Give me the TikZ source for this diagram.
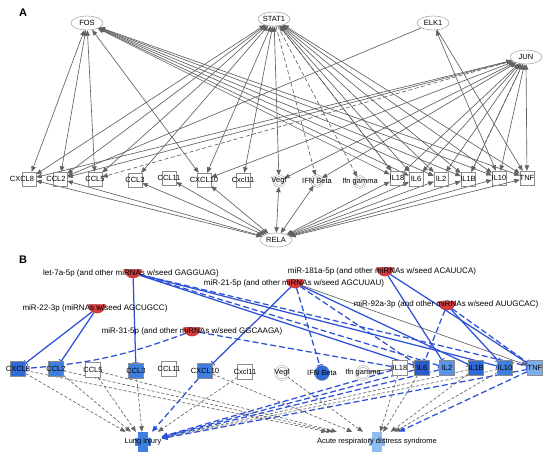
\documentclass[tikz,border=0pt]{standalone}
\usepackage{fontspec}
\setmainfont{Liberation Sans}
\usetikzlibrary{arrows.meta,shapes.geometric}
\definecolor{eg}{HTML}{626262}
\definecolor{nb}{HTML}{8C8C8C}
\definecolor{bl}{HTML}{2D52D6}
\definecolor{mr}{HTML}{D63A3A}
\definecolor{fA}{HTML}{2E6AD8}
\definecolor{fB}{HTML}{3F7FE0}
\definecolor{fC}{HTML}{2A5CCC}
\definecolor{fD}{HTML}{5A94E6}
\definecolor{fE}{HTML}{7AAEEE}
\definecolor{fF}{HTML}{8FBDF2}
\pgfdeclarelayer{bg}
\pgfsetlayers{bg,main}
\tikzset{
  tf/.style={ellipse, draw=nb, fill=white, minimum width=32pt, minimum height=14pt, inner sep=0pt},
  gbox/.style={rectangle, draw=nb, minimum size=14pt, inner sep=0pt},
  bbox/.style={rectangle, draw=nb, minimum size=15pt, inner sep=0pt},
  gcirc/.style={circle, draw=nb, double=white, double distance=1.3pt, minimum size=11pt, inner sep=0pt},
  bcirc/.style={circle, draw=nb, minimum size=15pt, inner sep=0pt},
  mir/.style={semicircle, shape border rotate=180, fill=mr, draw=mr!85!black, minimum width=17pt, inner sep=0pt},
  mirtext/.style={font=\fontsize{8}{9}\selectfont, inner sep=0pt},
  tip/.tip={Triangle[length=5.5pt,width=4.5pt]},
  aed/.style={draw=eg, line width=0.65pt, -tip},
  abi/.style={draw=eg, line width=0.65pt, tip-tip},
  dsh/.style={dash pattern=on 4pt off 2.5pt},
  inh/.style={draw=bl, line width=1.25pt, -{Bar[width=6pt,line width=0.9pt]}},
  inhd/.style={inh, dash pattern=on 6pt off 3pt},
  gd/.style={draw=eg, line width=0.65pt, dash pattern=on 3pt off 2pt, -tip},
  bd/.style={draw=bl, line width=1.25pt, dash pattern=on 6pt off 3pt, -{Triangle[length=6pt,width=5pt]}},
  panel/.style={font=\fontsize{11}{12}\selectfont\bfseries, inner sep=0pt}
}
\begin{document}
\begin{tikzpicture}[x=1pt, y=-1pt, font=\fontsize{7.5}{8}\selectfont]
\useasboundingbox (0,0) rectangle (550,459);

% ---------------- Panel A ----------------
\node[panel] (labA) at (23,13) {A};
\node[tf] (fos) at (87,23) {FOS};
\node[tf] (stat1) at (274,19) {STAT1};
\node[tf] (elk1) at (433,23) {ELK1};
\node[tf] (jun) at (526,57) {JUN};
\node[tf] (rela) at (276,240) {RELA};

\node[gbox, label={[xshift=-7pt]center:CXCL8}] (aCXCL8) at (29,179) {};
\node[gbox, label={[xshift=-4pt]center:CCL2}] (aCCL2) at (60,179) {};
\node[gbox, label={center:CCL5}] (aCCL5) at (95,179) {};
\node[gbox, label={center:CCL3}] (aCCL3) at (135,180) {};
\node[gbox, label={center:CCL11}] (aCCL11) at (169,178) {};
\node[gbox, label={center:CXCL10}] (aCXCL10) at (204,180) {};
\node[gbox, label={center:Cxcl11}] (aCxcl11) at (243,180) {};
\node[gcirc, label={center:Vegf}] (aVegf) at (279,181) {};
\node[gcirc, label={center:IFN Beta}] (aIFNB) at (317,181) {};
\node[gcirc, label={center:Ifn gamma}] (aIFNG) at (360,182) {};
\node[gbox, label={center:IL18}] (aIL18) at (397,178) {};
\node[gbox, label={center:IL6}] (aIL6) at (416,179) {};
\node[gbox, label={center:IL2}] (aIL2) at (441,179) {};
\node[gbox, label={center:IL1B}] (aIL1B) at (468,179) {};
\node[gbox, label={center:IL10}] (aIL10) at (499,178) {};
\node[gbox, label={center:TNF}] (aTNF) at (527,178) {};

\begin{pgfonlayer}{bg}
\fill[white] (0,0) rectangle (550,459);
\foreach \t in {CXCL8,CCL2,CCL5,CXCL10,IL18,IL6,IL2,IL1B,IL10,TNF}
  \draw[abi] (fos) -- (a\t);
\foreach \t in {CXCL8,CCL2,CCL5,CCL3,CXCL10,Cxcl11,Vegf,IL18,IL6,IL2,IL1B,IL10,TNF}
  \draw[abi] (stat1) -- (a\t);
\draw[aed, dsh] (stat1) -- (aIFNB);
\draw[aed, dsh] (stat1) -- (aIFNG);
\draw[aed, dsh] (stat1) -- (aIL18);
\draw[aed] (elk1) -- (aCCL2);
\draw[abi] (elk1) -- (aIL10);
\draw[aed] (elk1) -- (aTNF);
\foreach \t in {CXCL8,CCL2,CXCL10,Vegf,IFNB,IL18,IL6,IL2,IL1B,IL10,TNF}
  \draw[abi] (jun) -- (a\t);
\draw[aed, dsh] (jun) -- (aCCL5);
\draw[aed, dsh] (jun) -- (aIL1B);
\foreach \t in {CXCL8,CCL2,CCL3,CCL11,CXCL10,Vegf,IFNB,IL18,IL6,IL2,IL1B,IL10,TNF}
  \draw[abi] (rela) -- (a\t);
\end{pgfonlayer}

% ---------------- Panel B ----------------
\node[panel] (labB) at (23,260) {B};

\node[mir] (mlet) at (133,273) {};
\node[mir] (m22) at (97,308) {};
\node[mir] (m31) at (192,331) {};
\node[mir] (m21) at (295,283) {};
\node[mir] (m181) at (385,271) {};
\node[mir] (m92) at (447,305) {};
\node[mirtext] (tlet) at (131,273) {let-7a-5p (and other miRNAs w/seed GAGGUAG)};
\node[mirtext] (t22) at (95,308) {miR-22-3p (miRNAs w/seed AGCUGCC)};
\node[mirtext] (t31) at (192,331) {miR-31-5p (and other miRNAs w/seed GGCAAGA)};
\node[mirtext] (t21) at (294,283) {miR-21-5p (and other miRNAs w/seed AGCUUAU)};
\node[mirtext] (t181) at (382,271) {miR-181a-5p (and other miRNAs w/seed ACAUUCA)};
\node[mirtext] (t92) at (446,304) {miR-92a-3p (and other miRNAs w/seed AUUGCAC)};

\node[bbox, fill=fA, label={center:CXCL8}] (bCXCL8) at (18,369) {};
\node[bbox, fill=fB, label={center:CCL2}] (bCCL2) at (56,369) {};
\node[bbox, fill=white, label={center:CCL5}] (bCCL5) at (93,370) {};
\node[bbox, fill=fB, label={center:CCL3}] (bCCL3) at (136,371) {};
\node[bbox, fill=white, label={center:CCL11}] (bCCL11) at (169,369) {};
\node[bbox, fill=fB, label={center:CXCL10}] (bCXCL10) at (205,371) {};
\node[bbox, fill=white, label={center:Cxcl11}] (bCxcl11) at (245,372) {};
\node[gcirc, fill=white, minimum size=13pt, label={center:Vegf}] (bVegf) at (282,373) {};
\node[bcirc, fill=fA, label={center:IFN Beta}] (bIFNB) at (322,373) {};
\node[gcirc, fill=white, minimum size=13pt, label={center:Ifn gamma}] (bIFNG) at (363,373) {};
\node[bbox, fill=white, label={center:IL18}] (bIL18) at (400,368) {};
\node[bbox, fill=fC, label={center:IL6}] (bIL6) at (422,368) {};
\node[bbox, fill=fD, label={center:IL2}] (bIL2) at (447,368) {};
\node[bbox, fill=fA, label={center:IL1B}] (bIL1B) at (476,368) {};
\node[bbox, fill=fB, label={center:IL10}] (bIL10) at (505,368) {};
\node[bbox, fill=fE, label={center:TNF}] (bTNF) at (535,368) {};

\fill[fB] (138,432) rectangle (148,452);
\fill[fB] (135,438) rectangle (151,446);
\node[minimum width=16pt, minimum height=20pt, inner sep=0pt] (lung) at (143,442) {Lung injury};
\fill[fF] (372,432) rectangle (382,452);
\fill[fF] (369,438) rectangle (385,446);
\node[minimum width=16pt, minimum height=20pt, inner sep=0pt] (ards) at (377,442) {Acute respiratory distress syndrome};

\begin{pgfonlayer}{bg}
% miRNA inhibition
\draw[inh] (m22) -- (bCXCL8);
\draw[inh] (m22) -- (bCCL2);
\draw[inh] (mlet) -- (bCCL3);
\draw[inh] (mlet) -- (bIL6);
\draw[inh] (mlet) -- (bIL10);
\draw[inhd] (mlet) -- (bIL2);
\draw[inhd] (mlet) -- (bTNF);
\draw[inhd] (m31) to[bend left=8] (bCXCL8);
\draw[inhd] (m31) -- (bIL18);
\draw[inh] (m21) -- (bCXCL10);
\draw[inhd] (m21) -- (bIFNB);
\draw[inhd] (m21) -- (bIL6);
\draw[inh] (m21) -- (bIL1B);
\draw[aed] (m21) -- (bTNF);
\draw[inh] (m181) -- (bIL2);
\draw[inh] (m181) -- (bTNF);
\draw[inhd] (m92) -- (bIL6);
\draw[inh] (m92) -- (bIL10);
\draw[inhd] (m92) -- (bTNF);
\draw[draw=eg, line width=0.65pt] (bIFNG) -- (bIL18);
% targets to diseases
\foreach \t in {CXCL8,CCL2,CCL5,CCL3,Cxcl11,IL1B,IL10}
  \draw[gd] (b\t) -- (lung);
\foreach \t in {CXCL10,IL18,IL6,IL2,TNF}
  \draw[bd] (b\t) -- (lung);
\foreach \t in {CXCL8,CCL2,CCL5,CXCL10,Vegf,IL18,IL6,IL1B,IL10}
  \draw[gd] (b\t) -- (ards);
\draw[bd] (bTNF) -- (ards);
\end{pgfonlayer}
\end{tikzpicture}
\end{document}
